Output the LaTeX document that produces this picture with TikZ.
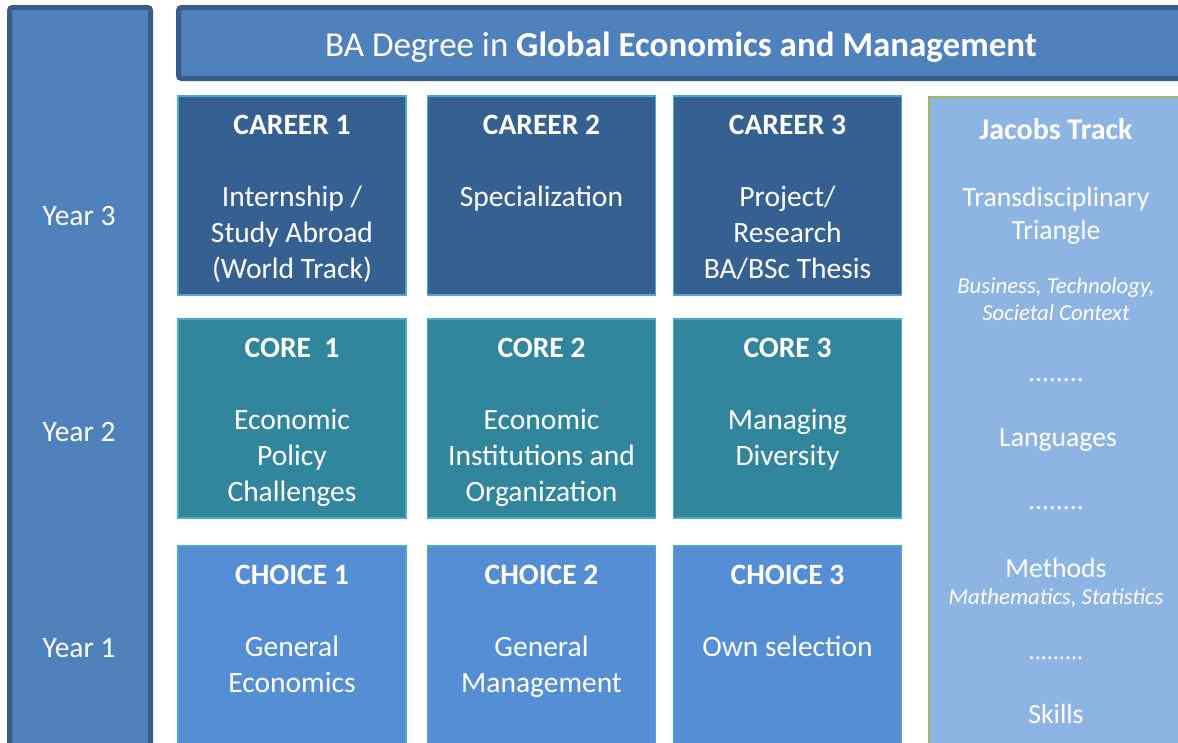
\documentclass[tikz,border=0pt]{standalone}
\usepackage{fontspec}
\setmainfont{Carlito}
\definecolor{colfill}{HTML}{4F81BD}
\definecolor{colline}{HTML}{385D8A}
\definecolor{careerfill}{HTML}{366092}
\definecolor{corefill}{HTML}{31859C}
\definecolor{choicefill}{HTML}{558ED5}
\definecolor{boxline}{HTML}{4BACC6}
\definecolor{jacfill}{HTML}{8EB4E3}
\definecolor{jacline}{HTML}{9BBB59}
\tikzset{
  box/.style={draw=boxline, line width=1.5pt, minimum width=228pt, inner sep=0pt},
  careerbox/.style={box, fill=careerfill, minimum height=199pt},
  corebox/.style={box, fill=corefill, minimum height=199pt},
  choicebox/.style={box, fill=choicefill, minimum height=230pt},
  big/.style={text=white, anchor=base, inner sep=0pt, font=\fontsize{29.5}{36}\selectfont},
  bigb/.style={big, font=\fontsize{29.5}{36}\selectfont\bfseries},
  jt/.style={text=white, anchor=base, inner sep=0pt, font=\fontsize{27.7}{33}\selectfont},
  jtb/.style={jt, font=\fontsize{30}{36}\selectfont\bfseries},
  jti/.style={text=white, anchor=base, inner sep=0pt, font=\fontsize{22.8}{27}\selectfont\itshape},
  yr/.style={text=white, anchor=base, inner sep=0pt, font=\fontsize{29.5}{36}\selectfont},
}
\begin{document}
\begin{tikzpicture}[x=1pt,y=-1pt]
\useasboundingbox (0,0) rectangle (1178,742);
\clip (0,0) rectangle (1178,742);
% left year column
\draw[fill=colfill, draw=colline, line width=5pt, rounded corners=3pt] (9.5,7.5) rectangle (150.5,770);
\node[yr] (y3) at (79,225) {Year 3};
\node[yr] (y2) at (79,441) {Year 2};
\node[yr] (y1) at (79,657) {Year 1};
% banner
\draw[fill=colfill, draw=colline, line width=5pt, rounded corners=3pt] (178.5,7.5) rectangle (1210,78.5);
\node[text=white, anchor=base, inner sep=0pt, font=\fontsize{35}{42}\selectfont] (title) at (681,56) {BA Degree in \textbf{Global Economics and Management}};
% Jacobs track
\draw[fill=jacfill, draw=jacline, line width=2pt] (929,96.5) rectangle (1200,770);
% boxes
\node[careerbox] (car1) at (292,195.5) {};
\node[careerbox] (car2) at (541.5,195.5) {};
\node[careerbox] (car3) at (787.5,195.5) {};
\node[corebox] (cor1) at (292,418.5) {};
\node[corebox] (cor2) at (541.5,418.5) {};
\node[corebox] (cor3) at (787.5,418.5) {};
\node[choicebox] (cho1) at (292,661) {};
\node[choicebox] (cho2) at (541.5,661) {};
\node[choicebox] (cho3) at (787.5,661) {};
% career texts
\node[bigb] (c1t) at (292,134.5) {CAREER 1};
\node[big] (c1a) at (292,206.5) {Internship /};
\node[big] (c1b) at (292,242.5) {Study Abroad};
\node[big] (c1c) at (292,278.5) {(World Track)};
\node[bigb] (c2t) at (541.5,134.5) {CAREER 2};
\node[big] (c2a) at (541.5,206.5) {Specialization};
\node[bigb] (c3t) at (787.5,134.5) {CAREER 3};
\node[big] (c3a) at (787.5,206.5) {Project/};
\node[big] (c3b) at (787.5,242.5) {Research};
\node[big] (c3c) at (787.5,278.5) {BA/BSc Thesis};
% core texts
\node[bigb] (o1t) at (292,357.5) {CORE\ \ 1};
\node[big] (o1a) at (292,429.5) {Economic};
\node[big] (o1b) at (292,465.5) {Policy};
\node[big] (o1c) at (292,501.5) {Challenges};
\node[bigb] (o2t) at (541.5,357.5) {CORE 2};
\node[big] (o2a) at (541.5,429.5) {Economic};
\node[big] (o2b) at (541.5,465.5) {Institutions and};
\node[big] (o2c) at (541.5,501.5) {Organization};
\node[bigb] (o3t) at (787.5,357.5) {CORE 3};
\node[big] (o3a) at (787.5,429.5) {Managing};
\node[big] (o3b) at (787.5,465.5) {Diversity};
% choice texts
\node[bigb] (h1t) at (292,584.5) {CHOICE 1};
\node[big] (h1a) at (292,656.5) {General};
\node[big] (h1b) at (292,692.5) {Economics};
\node[bigb] (h2t) at (541.5,584.5) {CHOICE 2};
\node[big] (h2a) at (541.5,656.5) {General};
\node[big] (h2b) at (541.5,692.5) {Management};
\node[bigb] (h3t) at (787.5,584.5) {CHOICE 3};
\node[big] (h3a) at (787.5,656.5) {Own selection};
% Jacobs texts
\node[jtb] (j1) at (1056,139.5) {Jacobs Track};
\node[jt] (j2) at (1056,206) {Transdisciplinary};
\node[jt] (j3) at (1056,239) {Triangle};
\node[jti] (j4) at (1056,293) {Business, Technology,};
\node[jti] (j5) at (1056,320) {Societal Context};
\node[jt] (j6) at (1056,381) {........};
\node[jt] (j7) at (1058,446) {Languages};
\node[jt] (j8) at (1056,509) {........};
\node[jt] (j9) at (1056,577) {Methods};
\node[jti] (j10) at (1056,604) {Mathematics, Statistics};
\node[jt, font=\fontsize{24}{30}\selectfont] (j11) at (1056,659) {.........};
\node[jt] (j12) at (1056,723) {Skills};
\end{tikzpicture}
\end{document}
